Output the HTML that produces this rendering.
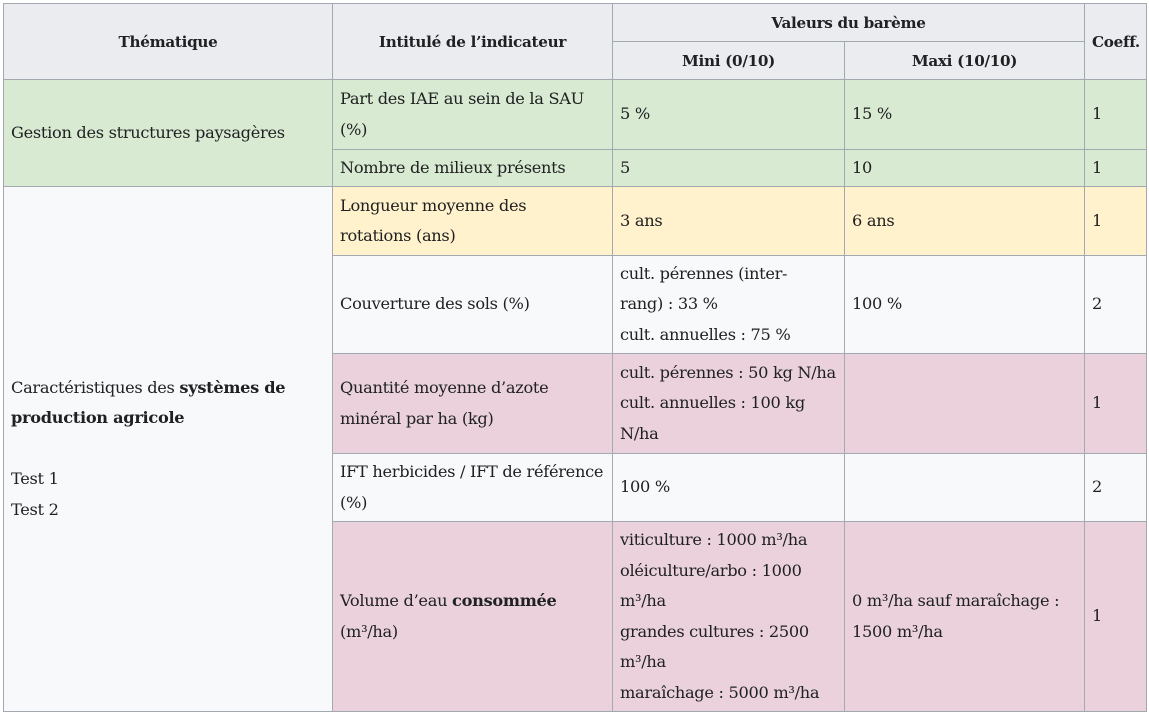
<!DOCTYPE html>
<html><head><meta charset="utf-8"><style>
html,body{margin:0;padding:0;background:#fff;width:1149px;height:714px;overflow:hidden}
table{position:absolute;left:3px;top:3px;width:1143px;border-collapse:collapse;table-layout:fixed;font-family:"DejaVu Serif","Liberation Serif",serif;font-size:16.2px;color:#202122;letter-spacing:-0.3px}
td,th{border:1px solid #a2a9b1;padding:0 7px;line-height:30.5px;vertical-align:middle;text-align:left;box-sizing:border-box;white-space:nowrap;overflow:visible}
th{background:#eaecf0;text-align:center;font-weight:bold;font-size:15.2px;padding-top:2px}
.g{background:#d9ead3}.y{background:#fff2cc}.p{background:#ead1dc}.w{background:#f8f9fa}
</style></head><body>
<table>
<colgroup><col style="width:329px"><col style="width:280px"><col style="width:232px"><col style="width:240px"><col style="width:62px"></colgroup>
<tr style="height:38px"><th rowspan="2">Thématique</th><th rowspan="2">Intitulé de l’indicateur</th><th colspan="2">Valeurs du barème</th><th rowspan="2">Coeff.</th></tr>
<tr style="height:38px"><th>Mini (0/10)</th><th>Maxi (10/10)</th></tr>
<tr style="height:70px"><td class="g" rowspan="2">Gestion des structures paysagères</td><td class="g">Part des IAE au sein de la SAU<br>(%)</td><td class="g">5 %</td><td class="g">15 %</td><td class="g">1</td></tr>
<tr style="height:37px"><td class="g">Nombre de milieux présents</td><td class="g">5</td><td class="g">10</td><td class="g">1</td></tr>
<tr style="height:69px"><td class="w" rowspan="5">Caractéristiques des <b>systèmes de<br>production agricole</b><br><br>Test 1<br>Test 2</td><td class="y">Longueur moyenne des<br>rotations (ans)</td><td class="y">3 ans</td><td class="y">6 ans</td><td class="y">1</td></tr>
<tr style="height:98px"><td class="w">Couverture des sols (%)</td><td class="w">cult. pérennes (inter-<br>rang) : 33 %<br>cult. annuelles : 75 %</td><td class="w">100 %</td><td class="w">2</td></tr>
<tr style="height:100px"><td class="p">Quantité moyenne d’azote<br>minéral par ha (kg)</td><td class="p">cult. pérennes : 50 kg N/ha<br>cult. annuelles : 100 kg<br>N/ha</td><td class="p"></td><td class="p">1</td></tr>
<tr style="height:68px"><td class="w">IFT herbicides / IFT de référence<br>(%)</td><td class="w">100 %</td><td class="w"></td><td class="w">2</td></tr>
<tr style="height:190px"><td class="p">Volume d’eau <b>consommée</b><br>(m³/ha)</td><td class="p">viticulture : 1000 m³/ha<br>oléiculture/arbo : 1000<br>m³/ha<br>grandes cultures : 2500<br>m³/ha<br>maraîchage : 5000 m³/ha</td><td class="p">0 m³/ha sauf maraîchage :<br>1500 m³/ha</td><td class="p">1</td></tr>
</table>
</body></html>
